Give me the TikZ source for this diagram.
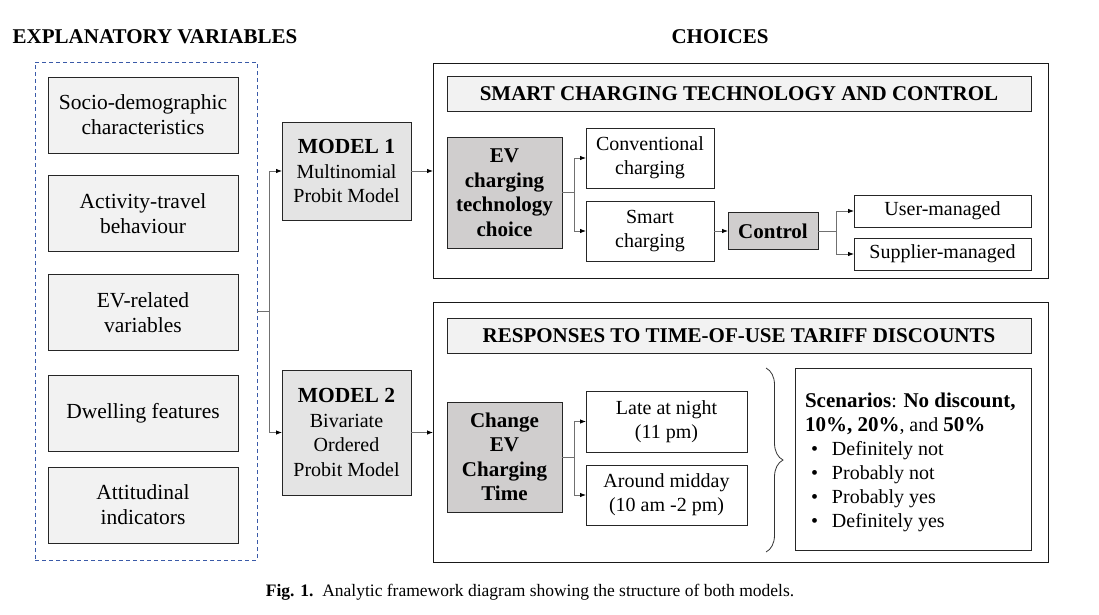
\documentclass[tikz,border=0pt]{standalone}
\usepackage{fontspec}
\setmainfont{Liberation Serif}
\usetikzlibrary{arrows.meta,decorations.pathreplacing}
\definecolor{lightfill}{HTML}{F2F2F2}
\definecolor{midfill}{HTML}{E4E4E4}
\definecolor{darkfill}{HTML}{D0CECE}
\definecolor{dashblue}{HTML}{3A5AA8}
\definecolor{conncol}{HTML}{707070}
\begin{document}
\begin{tikzpicture}[x=1pt,y=-1pt,
  every node/.style={inner sep=0pt, outer sep=0pt},
  varbox/.style={draw=black!85, line width=1pt, fill=lightfill, minimum width=190pt, minimum height=76pt, align=center, font=\fontsize{21.5}{25}\selectfont},
  modelbox/.style={draw=black!85, line width=1pt, fill=midfill, minimum width=129pt, align=center, font=\fontsize{20}{24.5}\selectfont},
  bigbox/.style={draw=black!90, line width=1pt, minimum width=615pt},
  headbox/.style={draw=black!85, line width=1pt, fill=lightfill, minimum width=584pt, minimum height=35pt, font=\fontsize{21}{24}\selectfont\bfseries},
  keybox/.style={draw=black!85, line width=1pt, fill=darkfill, align=center, font=\fontsize{21}{24.5}\selectfont\bfseries},
  optbox/.style={draw=black!85, line width=1pt, fill=white, align=center, font=\fontsize{20}{24}\selectfont},
  titletext/.style={font=\fontsize{21}{24}\selectfont\bfseries},
  conn/.style={draw=conncol, line width=0.8pt},
  arr/.style={conn, -{Latex[length=6pt,width=4.5pt,color=black]}}
]
\useasboundingbox (0,0) rectangle (1099,614);

% titles
\node[titletext] (t1) at (155,37) {EXPLANATORY VARIABLES};
\node[titletext] (t2) at (720,37) {CHOICES};

% explanatory variables
\node[draw=dashblue, dashed, line width=1pt, dash pattern=on 4pt off 3pt, minimum width=222pt, minimum height=498pt] (vars) at (146,311) {};
\node[varbox] (v1) at (143,115) {Socio-demographic\\characteristics};
\node[varbox] (v2) at (143,213.5) {Activity-travel\\behaviour};
\node[varbox] (v3) at (143,312.5) {EV-related\\variables};
\node[varbox] (v4) at (143,413) {Dwelling features};
\node[varbox] (v5) at (143,505) {Attitudinal\\indicators};

% models
\node[modelbox, minimum height=98pt] (m1) at (346.5,171) {\textbf{\fontsize{21.5}{24.5}\selectfont MODEL 1}\\Multinomial\\Probit Model};
\node[modelbox, minimum height=125pt] (m2) at (346.5,432.5) {\textbf{\fontsize{21.5}{24.5}\selectfont MODEL 2}\\Bivariate\\Ordered\\Probit Model};

\coordinate (jv) at (269,311);
\draw[conn] (vars.east) -- (jv);
\draw[arr] (jv) |- (m1.west);
\draw[arr] (jv) |- (m2.west);

% big boxes
\node[bigbox, minimum height=215pt] (top) at (740.5,170.5) {};
\node[bigbox, minimum height=260pt] (bot) at (740.5,432) {};
\draw[arr] (m1.east) -- (m1.east -| top.west);
\draw[arr] (m2.east) -- (m2.east -| bot.west);

% top box content
\node[headbox] (h1) at (739,93.5) {SMART CHARGING TECHNOLOGY AND CONTROL};
\node[keybox, minimum width=115pt, minimum height=111pt] (ev) at (504.5,192.5) {EV\\charging\\technology\\choice};
\node[optbox, minimum width=128pt, minimum height=60pt] (conv) at (650,158) {Conventional\\charging};
\node[optbox, minimum width=128pt, minimum height=60pt] (smart) at (650,231) {Smart\\charging};
\coordinate (je) at (574,192.5);
\draw[conn] (ev.east) -- (je);
\draw[arr] (je) |- (conv.west);
\draw[arr] (je) |- (smart.west);
\node[keybox, minimum width=90pt, minimum height=37pt] (ctrl) at (773,231) {Control};
\draw[arr] (smart.east) -- (ctrl.west);
\node[optbox, minimum width=177pt, minimum height=32pt] (user) at (942.5,211) {User-managed};
\node[optbox, minimum width=177pt, minimum height=32pt] (supp) at (942.5,254) {Supplier-managed};
\coordinate (jc) at (836,231);
\draw[conn] (ctrl.east) -- (jc);
\draw[arr] (jc) |- (user.west);
\draw[arr] (jc) |- (supp.west);

% bottom box content
\node[headbox] (h2) at (739,335.5) {RESPONSES TO TIME-OF-USE TARIFF DISCOUNTS};
\node[keybox, minimum width=115pt, minimum height=110pt] (chg) at (504.5,457) {Change\\EV\\Charging\\Time};
\node[optbox, minimum width=161pt, minimum height=61pt] (late) at (666.5,421.5) {Late at night\\(11 pm)};
\node[optbox, minimum width=161pt, minimum height=60pt] (mid) at (666.5,495) {Around midday\\(10 am -2 pm)};
\coordinate (jt) at (574,457);
\draw[conn] (chg.east) -- (jt);
\draw[arr] (jt) |- (late.west);
\draw[arr] (jt) |- (mid.west);

\draw[black!80, line width=0.8pt, decorate, decoration={brace, amplitude=17pt, aspect=0.5}] (766,368) -- (766,552);

\node[draw=black!85, line width=1pt, minimum width=236pt, minimum height=182pt] (scen) at (913,459) {};
\node[anchor=north west, align=left, font=\fontsize{20}{24}\selectfont] (scentext) at (805,393) {%
\textbf{\fontsize{21}{24}\selectfont Scenarios}: \textbf{\fontsize{21}{24}\selectfont No discount,}\\
\textbf{\fontsize{21}{24}\selectfont 10\%, 20\%}, and \textbf{\fontsize{21}{24}\selectfont 50\%}\\
\makebox[27pt][l]{\hspace{6pt}\textbullet}Definitely not\\
\makebox[27pt][l]{\hspace{6pt}\textbullet}Probably not\\
\makebox[27pt][l]{\hspace{6pt}\textbullet}Probably yes\\
\makebox[27pt][l]{\hspace{6pt}\textbullet}Definitely yes};

% caption
\node[font=\fontsize{17.5}{20}\selectfont] (cap) at (530,592) {\textbf{Fig. 1.}\ \ Analytic framework diagram showing the structure of both models.};
\end{tikzpicture}
\end{document}
